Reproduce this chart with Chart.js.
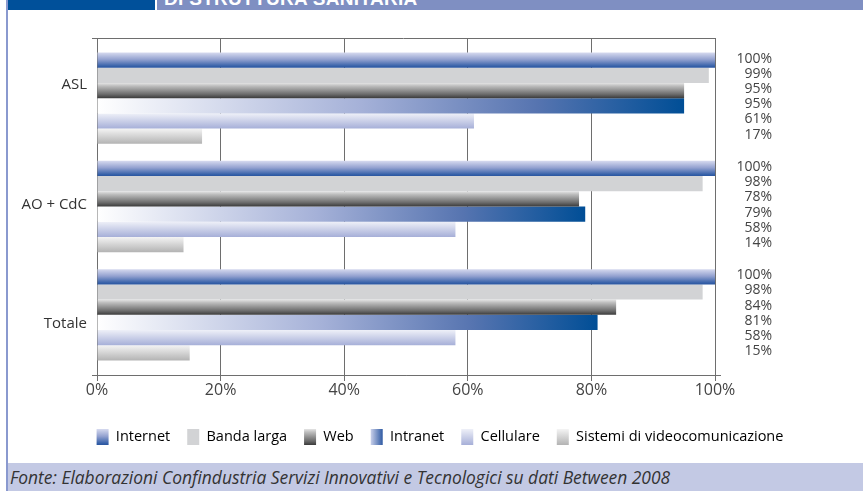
<!DOCTYPE html>
<html lang="it">
<head>
<meta charset="utf-8">
<title>Diffusione delle tecnologie per tipologia di struttura sanitaria</title>
<script src="https://cdn.jsdelivr.net/npm/chart.js@4/dist/chart.umd.min.js"></script>
<style>
  html, body { margin: 0; padding: 0; background: #fff; }
  #page { position: relative; width: 863px; height: 491px; overflow: hidden; background: #fff; }
  #chart { position: absolute; left: 0; top: 0; }
  .edge { position: absolute; left: 6px; top: 0; width: 2px; height: 491px; background: #8a99cf; }
  .tag { position: absolute; left: 8px; top: 0; width: 147px; height: 10px; background: #00509a; }
  .band { position: absolute; left: 157px; top: 0; width: 706px; height: 10px; background: #7f8fc2; overflow: hidden; }
  .band span { position: absolute; left: 7px; top: -11px; color: #fff; font: bold 19px/20px "Liberation Sans", Arial, sans-serif; letter-spacing: 0.3px; white-space: nowrap; }
  .foot { position: absolute; left: 8px; top: 463px; width: 855px; height: 28px; background: #c3c9e4; }
  .foot span { position: absolute; left: 2px; top: 3px; color: #333; font: italic 17.4px/22px "Open Sans", sans-serif; white-space: nowrap; }
</style>
</head>
<body>
<div id="page">
  <canvas id="chart" width="863" height="491"></canvas>
  <div class="edge"></div>
  <div class="tag"></div>
  <div class="band"><span>DI STRUTTURA SANITARIA</span></div>
  <div class="foot"><span>Fonte: Elaborazioni Confindustria Servizi Innovativi e Tecnologici su dati Between 2008</span></div>
</div>
<script>
// Categories (structure types) and the share of structures using each technology (%)
const categories = ['ASL', 'AO + CdC', 'Totale'];
const seriesNames = ['Internet', 'Banda larga', 'Web', 'Intranet', 'Cellulare', 'Sistemi di videocomunicazione'];
const internet   = [100, 100, 100];
const bandaLarga = [99, 98, 98];
const web        = [95, 78, 84];
const intranet   = [95, 79, 81];
const cellulare  = [61, 58, 58];
const videocom   = [17, 14, 15];
const xTickValues = [0, 20, 40, 60, 80, 100];

// Fill styles: 'v' = gradient across the bar thickness, 'h' = along the bar, 'flat' = solid
const fills = [
  { dir: 'v', stops: [[0, '#d6daef'], [0.45, '#94a2d0'], [0.9, '#3560a8'], [1, '#2a559f']] },
  { dir: 'flat', color: '#d2d3d5' },
  { dir: 'v', stops: [[0, '#e4e4e4'], [0.2, '#bdbdbd'], [0.75, '#6a6a6a'], [1, '#3a3a3a']] },
  { dir: 'h', stops: [[0, '#ffffff'], [0.45, '#a5b1d8'], [0.75, '#5674b0'], [1, '#004e96']] },
  { dir: 'v', stops: [[0, '#eef0f8'], [1, '#a6afd8']] },
  { dir: 'v', stops: [[0, '#f4f4f4'], [1, '#b3b3b3']] }
];

const CAT_PCT = 0.843;

function applyStops(g, stops) {
  stops.forEach(([o, c]) => g.addColorStop(o, c));
  return g;
}

function barFill(f) {
  if (f.dir === 'flat') return f.color;
  return (c) => {
    const chart = c.chart;
    const last = f.stops[f.stops.length - 1][1];
    if (c.type !== 'data' || !chart.chartArea) return last;
    if (f.dir === 'h') {
      const xs = chart.scales.x;
      const x0 = xs.getPixelForValue(0);
      const x1 = xs.getPixelForValue(c.raw);
      return applyStops(chart.ctx.createLinearGradient(x0, 0, x1, 0), f.stops);
    }
    const ys = chart.scales.y;
    const step = Math.abs(ys.getPixelForValue(1) - ys.getPixelForValue(0));
    const group = step * CAT_PCT;
    const h = group / chart.data.datasets.length;
    const top = ys.getPixelForValue(c.dataIndex) - group / 2 + c.datasetIndex * h;
    return applyStops(chart.ctx.createLinearGradient(0, top, 0, top + h), f.stops);
  };
}

const seriesData = [internet, bandaLarga, web, intranet, cellulare, videocom];

// Legend boxes get the same shading as their bars
const legendFill = {
  id: 'legendFill',
  beforeDraw(chart) {
    const lg = chart.legend;
    if (!lg || !lg.legendHitBoxes || !lg.legendItems) return;
    const { boxWidth, boxHeight } = lg.options.labels;
    const ctx = chart.ctx;
    lg.legendItems.forEach((item, i) => {
      const hb = lg.legendHitBoxes[i];
      const f = fills[i];
      if (!hb || !f) return;
      if (f.dir === 'flat') { item.fillStyle = f.color; return; }
      const g = f.dir === 'h'
        ? ctx.createLinearGradient(hb.left, 0, hb.left + boxWidth, 0)
        : ctx.createLinearGradient(0, hb.top, 0, hb.top + boxHeight);
      item.fillStyle = applyStops(g, f.dir === 'h' ? [[0, '#c9d0ea'], [1, '#2f5aa3']] : f.stops);
    });
  }
};

// Frame line along the top of the plot and the overhang of the bottom axis
const frameLines = {
  id: 'frameLines',
  beforeDatasetsDraw(chart) {
    const { ctx, chartArea: a } = chart;
    ctx.save();
    ctx.strokeStyle = '#6e6e6e';
    ctx.lineWidth = 1;
    ctx.beginPath();
    ctx.moveTo(a.left - 5, a.top + 0.5);
    ctx.lineTo(a.right, a.top + 0.5);
    ctx.moveTo(a.left - 5, a.bottom + 0.5);
    ctx.lineTo(a.right + 6, a.bottom + 0.5);
    ctx.stroke();
    ctx.restore();
  }
};

// Percent labels in a column to the right of the plot, one per bar
const valueLabels = {
  id: 'valueLabels',
  afterDatasetsDraw(chart) {
    const { ctx, chartArea: a } = chart;
    ctx.save();
    ctx.font = '14px "Open Sans", sans-serif';
    ctx.fillStyle = '#444';
    ctx.textAlign = 'right';
    ctx.textBaseline = 'middle';
    chart.data.datasets.forEach((ds, di) => {
      chart.getDatasetMeta(di).data.forEach((bar, i) => {
        ctx.fillText(ds.data[i] + '%', a.right + 57, bar.y - 1.5);
      });
    });
    ctx.restore();
  }
};

Chart.defaults.font.family = '"Open Sans", sans-serif';
Chart.defaults.font.size = 14;
Chart.defaults.color = '#333';

new Chart(document.getElementById('chart'), {
  type: 'bar',
  data: {
    labels: categories,
    datasets: seriesNames.map((name, i) => ({
      label: name,
      data: seriesData[i],
      backgroundColor: barFill(fills[i]),
      borderWidth: 0,
      categoryPercentage: CAT_PCT,
      barPercentage: 1
    }))
  },
  options: {
    indexAxis: 'y',
    responsive: false,
    animation: false,
    layout: { padding: { left: 17, right: 0, top: 38, bottom: 36 } },
    scales: {
      x: {
        type: 'linear',
        min: 0,
        max: 100,
        afterBuildTicks(s) { s.ticks = xTickValues.map(value => ({ value })); },
        afterFit(s) { s.height = 37; },
        grid: { color: '#6e6e6e', lineWidth: 1, tickLength: 6, drawTicks: true },
        border: { display: true, color: '#6e6e6e' },
        ticks: { padding: 0, color: '#444', font: { size: 16 }, callback: v => v + '%' }
      },
      y: {
        type: 'category',
        afterBuildTicks(s) {
          s._startValue = -0.5556;
          s._valueRange = 3.111;
          const shift = [-0.12, -0.015, 0.085];
          s.ticks = s.ticks.map((t, i) => ({ value: t.value + (shift[i] || 0) }));
        },
        afterFit(s) { s.width = 80; },
        grid: { display: false, drawTicks: false },
        border: { display: true, color: '#6e6e6e' },
        ticks: { padding: 10, color: '#333', font: { size: 15 }, callback: (v, i) => categories[i] }
      },
      side: {
        type: 'linear',
        position: 'right',
        display: true,
        afterFit(s) { s.width = 148; },
        grid: { display: false },
        border: { display: false },
        ticks: { display: false }
      }
    },
    plugins: {
      legend: {
        position: 'bottom',
        labels: {
          boxWidth: 12,
          boxHeight: 16,
          padding: 17,
          color: '#333',
          font: { size: 14.5 },
          generateLabels: () => seriesNames.map((name, i) => ({
            text: name,
            fillStyle: fills[i].color || '#999',
            lineWidth: 0,
            strokeStyle: 'transparent',
            hidden: false,
            datasetIndex: i
          }))
        }
      },
      tooltip: { enabled: false }
    }
  },
  plugins: [legendFill, frameLines, valueLabels]
});
</script>
</body>
</html>
